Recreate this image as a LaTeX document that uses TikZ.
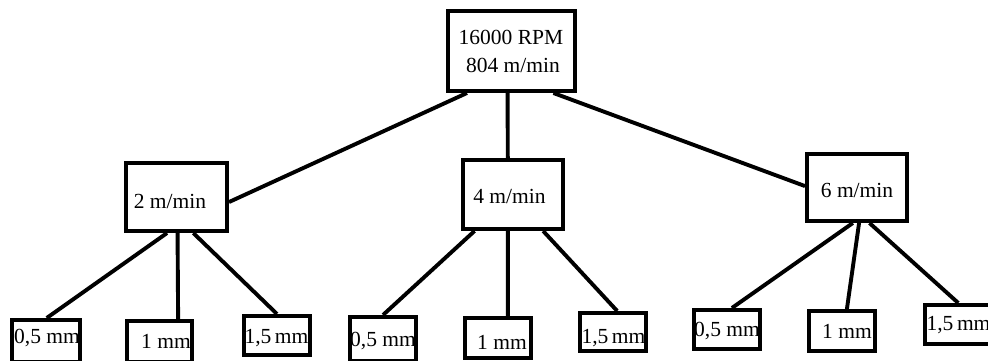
\documentclass[tikz,border=0pt]{standalone}
\usepackage{fontspec}
\setmainfont{Liberation Serif}
\usetikzlibrary{calc}
\begin{document}
\begin{tikzpicture}[x=1pt,y=-1pt,
  box/.style={draw, line width=4.4pt, inner sep=0pt},
  lbl/.style={anchor=base, inner sep=0pt, font=\fontsize{21.5}{27}\selectfont},
  link/.style={line width=3.9pt}]
\useasboundingbox (0,0) rectangle (988,361);
\fill[white] (0,0) rectangle (988,361);

% boxes: speed at the top, feed rates, depths of cut
\node[box, minimum width=126.6pt, minimum height=79.6pt] (root) at (511.5,51) {};
\node[box, minimum width=100.6pt, minimum height=67.6pt] (A) at (176.5,197) {};
\node[box, minimum width=99.6pt, minimum height=68.6pt] (B) at (513,194.5) {};
\node[box, minimum width=99.6pt, minimum height=66.6pt] (C) at (857,187.5) {};

\node[box, minimum width=67.6pt, minimum height=41.6pt] (A1) at (46,341) {};
\node[box, minimum width=64.6pt, minimum height=40.6pt] (A2) at (159.5,341.5) {};
\node[box, minimum width=65.6pt, minimum height=38.6pt] (A3) at (277,335.5) {};
\node[box, minimum width=65.6pt, minimum height=43.6pt] (B1) at (383,339) {};
\node[box, minimum width=65.6pt, minimum height=39.6pt] (B2) at (498,338) {};
\node[box, minimum width=65.6pt, minimum height=37.6pt] (B3) at (613,332) {};
\node[box, minimum width=65.6pt, minimum height=38.6pt] (C1) at (727,329.5) {};
\node[box, minimum width=65.6pt, minimum height=39.6pt] (C2) at (842,331) {};
\node[box, minimum width=67.6pt, minimum height=38.6pt] (C3) at (959,324.5) {};

% connectors
\draw[link] ($(root.south west)!0.16!(root.south east)$) -- ($(A.north east)!0.57!(A.south east)$);
\draw[link] ($(root.south west)!0.47!(root.south east)$) -- ($(B.north west)!0.45!(B.north east)$);
\draw[link] ($(root.south west)!0.82!(root.south east)$) -- ($(C.north west)!0.48!(C.south west)$);

\draw[link] ($(A.south west)!0.41!(A.south east)$) -- ($(A1.north west)!0.51!(A1.north east)$);
\draw[link] ($(A.south west)!0.51!(A.south east)$) -- ($(A2.north west)!0.77!(A2.north east)$);
\draw[link] ($(A.south west)!0.66!(A.south east)$) -- ($(A3.north west)!0.5!(A3.north east)$);

\draw[link] ($(B.south west)!0.13!(B.south east)$) -- ($(B1.north west)!0.5!(B1.north east)$);
\draw[link] ($(B.south west)!0.45!(B.south east)$) -- ($(B2.north west)!0.64!(B2.north east)$);
\draw[link] ($(B.south west)!0.79!(B.south east)$) -- ($(B3.north west)!0.56!(B3.north east)$);

\draw[link] ($(C.south west)!0.46!(C.south east)$) -- ($(C1.north west)!0.57!(C1.north east)$);
\draw[link] ($(C.south west)!0.52!(C.south east)$) -- ($(C2.north west)!0.57!(C2.north east)$);
\draw[link] ($(C.south west)!0.62!(C.south east)$) -- ($(C3.north west)!0.49!(C3.north east)$);

% labels
\node[lbl] (troot1) at (511,45) {16000 RPM};
\node[lbl] (troot2) at (513,73) {804 m/min};
\node[lbl] (tA) at (170,208) {2 m/min};
\node[lbl] (tB) at (509.5,203) {4 m/min};
\node[lbl] (tC) at (857,197) {6 m/min};

\node[lbl] (tA1) at (47,343) {0,5 mm};
\node[lbl] (tA2) at (166,348) {1 mm};
\node[lbl] (tA3) at (276.5,343) {1,5\,mm};
\node[lbl] (tB1) at (383,346) {0,5 mm};
\node[lbl] (tB2) at (502,349) {1 mm};
\node[lbl] (tB3) at (613.5,343) {1,5\,mm};
\node[lbl] (tC1) at (727,336) {0,5 mm};
\node[lbl] (tC2) at (847,338) {1 mm};
\node[lbl] (tC3) at (958.5,330) {1,5\,mm};
\end{tikzpicture}
\end{document}
